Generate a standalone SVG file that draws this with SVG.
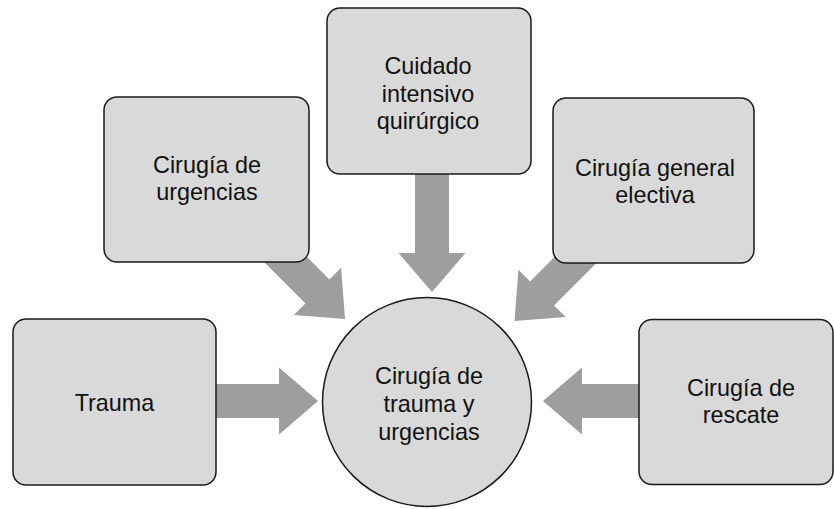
<svg xmlns="http://www.w3.org/2000/svg" xmlns:xlink="http://www.w3.org/1999/xlink" width="834" height="509" viewBox="0 0 834 509">
<style>
.box{fill:#d9d9d9;stroke:#1a1a1a;stroke-width:1.5}
.arr{fill:#9e9e9e}
.t{font-family:"Liberation Sans",Arial,sans-serif;font-size:23.4px;fill:#111;text-anchor:middle}
</style>
<defs>
<polygon id="arrow" points="-200,-17 -39,-17 -39,-33.5 0,0 -39,33.5 -39,17 -200,17"/>
</defs>
<rect width="834" height="509" fill="#ffffff"/>
<g id="connectors" class="arr">
<use xlink:href="#arrow" transform="translate(345,319) rotate(45)"/>
<use xlink:href="#arrow" transform="translate(432,292) rotate(90)"/>
<use xlink:href="#arrow" transform="translate(514.5,321) rotate(135)"/>
<use xlink:href="#arrow" transform="translate(318,401)"/>
<use xlink:href="#arrow" transform="translate(543,401) rotate(180)"/>
</g>
<g id="urgencias">
<rect class="box" x="104" y="97" width="205" height="165" rx="13"/>
<text class="t" x="207" y="173">Cirugía de</text>
<text class="t" x="207" y="200">urgencias</text>
</g>
<g id="cuidado">
<rect class="box" x="327" y="8" width="204" height="166" rx="13"/>
<text class="t" x="428" y="74">Cuidado</text>
<text class="t" x="428" y="101.5">intensivo</text>
<text class="t" x="428" y="128.5">quirúrgico</text>
</g>
<g id="electiva">
<rect class="box" x="553" y="98" width="201" height="165" rx="13"/>
<text class="t" x="655" y="176">Cirugía general</text>
<text class="t" x="655" y="203">electiva</text>
</g>
<g id="trauma">
<rect class="box" x="13" y="319" width="203" height="166" rx="13"/>
<text class="t" x="114.5" y="411">Trauma</text>
</g>
<g id="rescate">
<rect class="box" x="639" y="319.5" width="194" height="165" rx="13"/>
<text class="t" x="741" y="396">Cirugía de</text>
<text class="t" x="741" y="423">rescate</text>
</g>
<g id="centro">
<circle class="box" cx="427" cy="402" r="104.5"/>
<text class="t" x="429" y="383.5">Cirugía de</text>
<text class="t" x="429" y="411.5">trauma y</text>
<text class="t" x="429" y="439.5">urgencias</text>
</g>
</svg>
